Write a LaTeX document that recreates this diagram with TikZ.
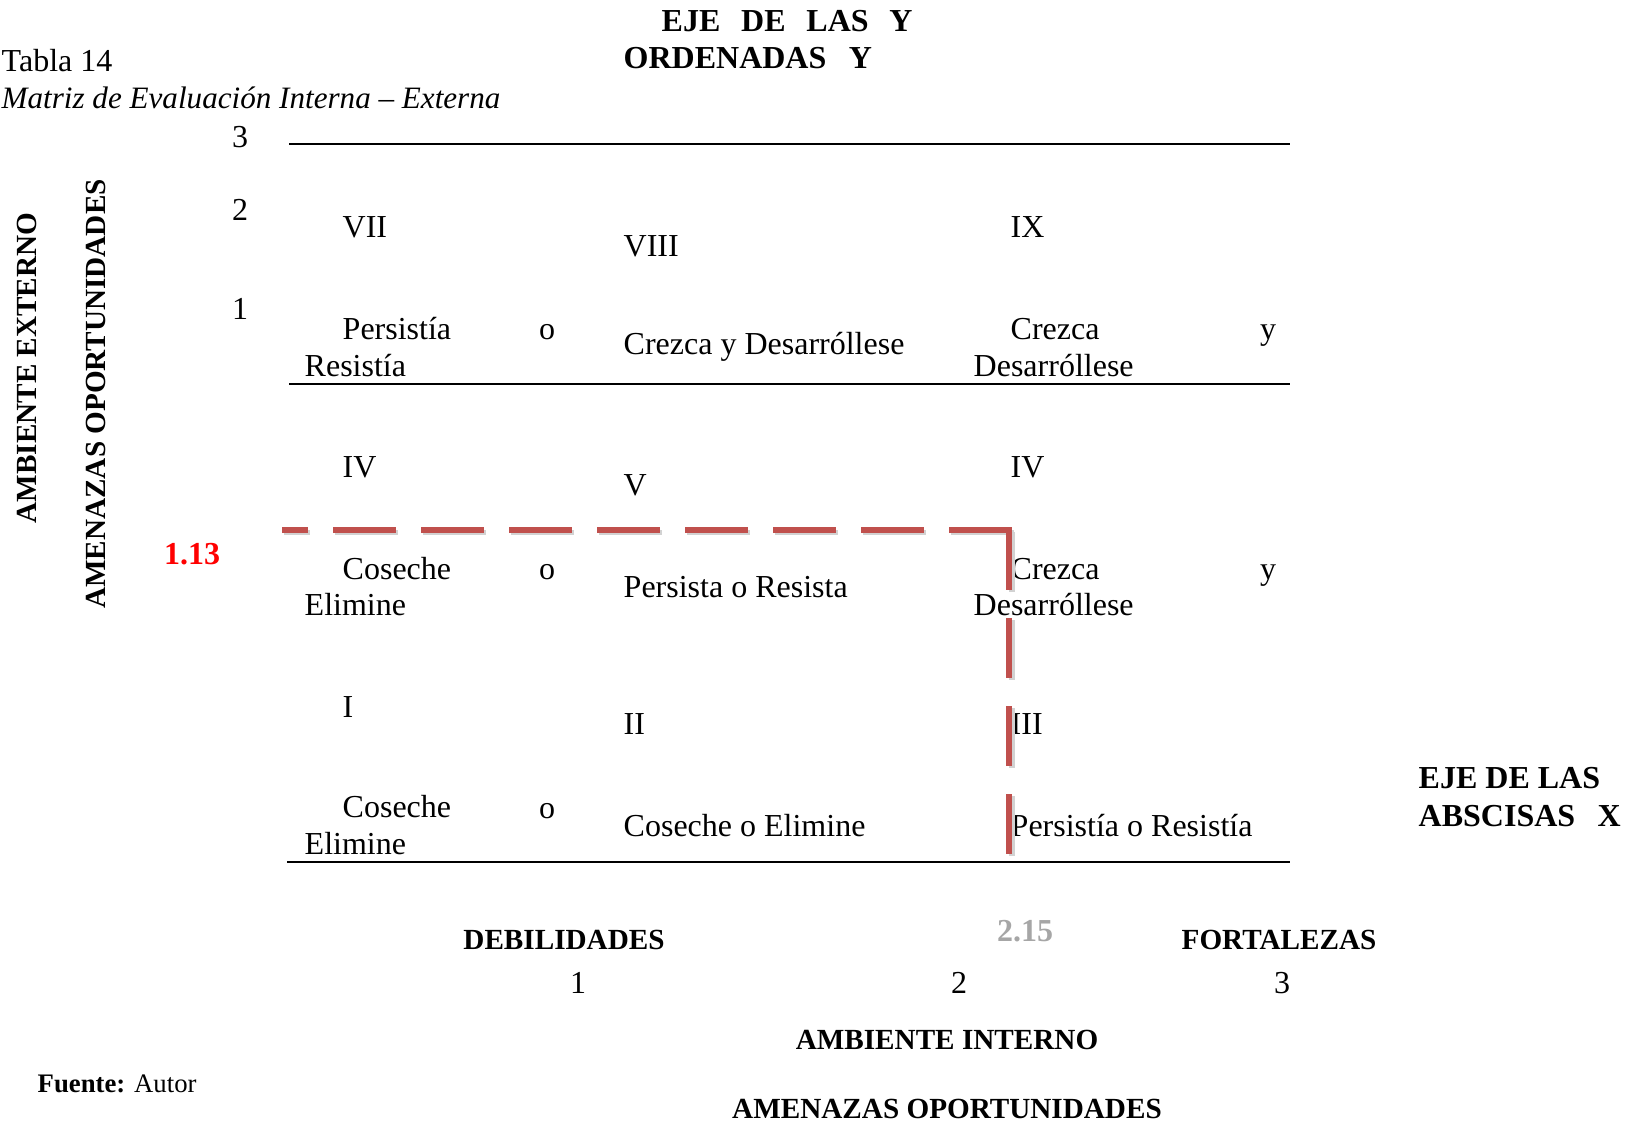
\documentclass[tikz,border=0pt]{standalone}
\usepackage{fontspec}
\setmainfont{Liberation Serif}
\definecolor{dashred}{RGB}{192,80,77}
\definecolor{valgray}{RGB}{166,166,166}
\begin{document}
\begin{tikzpicture}[x=0.01cm, y=-0.01cm,
    txt/.style={inner sep=0pt, anchor=west, font=\fontsize{9.1}{10.5}\selectfont},
    num/.style={inner sep=0pt, font=\fontsize{9.1}{10.5}\selectfont},
    head/.style={inner sep=0pt, font=\fontsize{8.3}{10}\selectfont\bfseries},
    title/.style={inner sep=0pt, anchor=west, font=\fontsize{9.1}{10.5}\selectfont\bfseries},
    grid/.style={line width=0.8pt},
    guide/.style={line width=1.7pt, color=dashred, line cap=butt}]
\useasboundingbox (0,0) rectangle (1625,1125);

          % caption
          \node[txt] (tabla) at (1,61) {Tabla 14};
          \node[txt, font=\fontsize{8.85}{10.5}\selectfont\itshape] (matriz) at (1,98) {Matriz de Evaluación Interna -- Externa};
          \node[title] (ejey) at (661,21) {EJE\hspace{0.65em}DE\hspace{0.65em}LAS\hspace{0.65em}Y};
          \node[title] (ordenadas) at (623,58) {ORDENADAS\hspace{0.7em}Y};

          % y axis
          \node[num] (y3) at (240,137) {3};
          \node[num] (y2) at (240,210) {2};
          \node[num] (y1) at (240,309) {1};
          \node[head, rotate=90] (ambext) at (27,368) {AMBIENTE EXTERNO};
          \node[head, rotate=90] (amenop) at (96,394) {AMENAZAS OPORTUNIDADES};
          \node[inner sep=0pt, font=\fontsize{9.1}{10.5}\selectfont\bfseries, text=red] (v113) at (192,554) {1.13};

          % grid lines
          \draw[grid] (289,144) -- (1290,144);
          \draw[grid] (289,384) -- (1290,384);
          \draw[grid] (287,862) -- (1290,862);

          % top row
          \node[txt] (c7) at (342,227) {VII};
          \node[txt] (c8) at (623,246) {VIII};
          \node[txt] (c9) at (1010,227) {IX};
          \node[txt] (s7a) at (342,329) {Persistía};
          \node[num, anchor=base] (s7o) at (547,340) {o};
          \node[txt] (s7b) at (304,366) {Resistía};
          \node[txt] (s8) at (623,347) {Crezca y Desarróllese};
          \node[txt] (s9a) at (1010,329) {Crezca};
          \node[num, anchor=base] (s9y) at (1268,340) {y};
          \node[txt] (s9b) at (973,366) {Desarróllese};

          % middle row
          \node[txt] (c4) at (342,467) {IV};
          \node[txt] (c5) at (623,485) {V};
          \node[txt] (c6) at (1010,467) {IV};
          \node[txt] (s4a) at (342,569) {Coseche};
          \node[num, anchor=base] (s4o) at (547,580) {o};
          \node[txt] (s4b) at (304,605) {Elimine};
          \node[txt] (s5) at (623,587) {Persista o Resista};
          \node[txt] (s6a) at (1010,569) {Crezca};
          \node[num, anchor=base] (s6y) at (1268,580) {y};
          \node[txt] (s6b) at (973,605) {Desarróllese};

          % bottom row
          \node[txt] (c1) at (342,707) {I};
          \node[txt] (c2) at (623,724) {II};
          \node[txt] (c3) at (1010,724) {III};
          \node[txt] (s1a) at (342,807) {Coseche};
          \node[num, anchor=base] (s1o) at (547,818) {o};
          \node[txt] (s1b) at (304,844) {Elimine};
          \node[txt] (s2) at (623,826) {Coseche o Elimine};
          \node[txt] (s3) at (1010,826) {Persistía o Resistía};

          % result lines
          \draw[guide, color=gray!35, dash pattern=on 0.63cm off 0.25cm] (1014,532.5) -- (284,532.5);
          \draw[guide, color=gray!35, dash pattern=on 0.6cm off 0.28cm] (1011.5,532) -- (1011.5,857);
          \draw[guide, dash pattern=on 0.63cm off 0.25cm] (1012,530) -- (282,530);
          \draw[guide, dash pattern=on 0.6cm off 0.28cm] (1009,530) -- (1009,855);

          % x axis
          \node[head] (debil) at (564,940) {DEBILIDADES};
          \node[inner sep=0pt, font=\fontsize{9.1}{10.5}\selectfont\bfseries, text=valgray] (v215) at (1025,931) {2.15};
          \node[head] (fortal) at (1279,940) {FORTALEZAS};
          \node[num] (x1) at (578,983) {1};
          \node[num] (x2) at (959,983) {2};
          \node[num] (x3) at (1282,983) {3};
          \node[head] (ambint) at (947,1040) {AMBIENTE INTERNO};
          \node[head] (amenop2) at (947,1109) {AMENAZAS OPORTUNIDADES};
          \node[title] (ejex) at (1418,778) {EJE DE LAS};
          \node[title] (abscisas) at (1418,816) {ABSCISAS\hspace{0.7em}X};

          \node[inner sep=0pt, anchor=west, font=\fontsize{7.6}{9}\selectfont] (fuente) at (37,1084) {\textbf{Fuente:} Autor};
        \end{tikzpicture}
\end{document}
